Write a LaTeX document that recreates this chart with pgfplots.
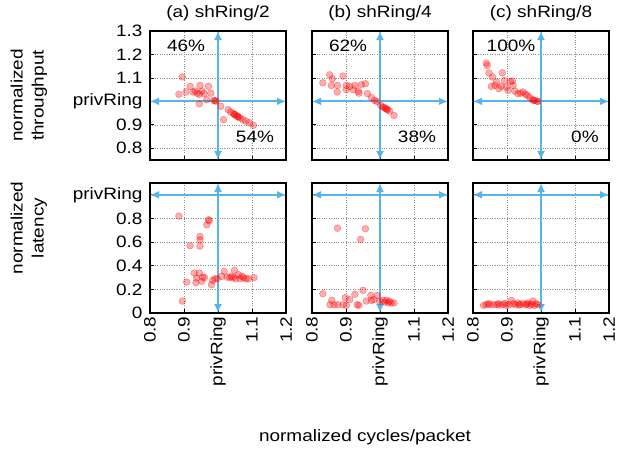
\documentclass[border=0pt]{standalone}
\usepackage{fontspec}
\setmainfont{Liberation Sans}[FakeStretch=1.15]
\usepackage{pgfplots}
\pgfplotsset{compat=1.18}
\usetikzlibrary{arrows.meta}
\definecolor{skyb}{RGB}{86,180,233}

% measurements of the three rings, normalized to privRing
\pgfplotstableread{
x y
0.895 1.104
0.885 1.030
0.906 1.040
0.918 1.064
0.927 1.040
0.933 1.044
0.939 1.035
0.945 1.030
0.947 1.068
0.953 1.044
0.959 1.033
0.972 1.064
0.979 1.035
0.945 0.990
0.967 1.007
0.988 1.004
0.994 1.001
0.991 1.003
1.008 0.979
1.016 0.922
1.030 0.965
1.037 0.955
1.045 0.948
1.050 0.943
1.055 0.938
1.060 0.933
1.065 0.929
1.073 0.922
1.082 0.916
1.092 0.909
1.104 0.898
1.048 0.945
1.058 0.936
}\tputA
\pgfplotstableread{
x y
0.832 1.079
0.852 1.113
0.860 1.096
0.857 1.068
0.875 1.068
0.874 1.040
0.891 1.108
0.901 1.068
0.901 1.050
0.911 1.064
0.926 1.068
0.936 1.043
0.938 1.035
0.945 1.071
0.957 1.075
0.963 1.033
0.975 1.016
0.984 1.004
0.991 1.000
1.002 0.983
1.009 0.976
1.017 0.969
1.022 0.965
1.028 0.959
1.041 0.940
0.921 1.050
1.012 0.973
1.020 0.967
}\tputB
\pgfplotstableread{
x y
0.839 1.163
0.842 1.153
0.847 1.121
0.857 1.104
0.854 1.064
0.864 1.068
0.869 1.082
0.876 1.054
0.886 1.122
0.893 1.089
0.898 1.061
0.903 1.047
0.910 1.085
0.916 1.087
0.918 1.068
0.932 1.033
0.940 1.035
0.947 1.040
0.954 1.030
0.960 1.026
0.967 1.016
0.975 1.007
0.981 1.004
0.988 1.001
0.991 1.000
0.923 1.044
0.883 1.064
0.978 1.005
}\tputC
\pgfplotstableread{
x y
0.885 0.820
0.972 0.789
0.967 0.746
0.974 0.780
0.947 0.648
0.947 0.620
0.947 0.566
0.918 0.569
0.895 0.101
0.908 0.262
0.930 0.338
0.945 0.338
0.937 0.296
0.955 0.304
0.935 0.256
0.952 0.268
0.960 0.300
0.981 0.239
0.984 0.276
0.991 0.290
0.998 0.290
1.011 0.310
1.018 0.352
1.027 0.304
1.035 0.299
1.045 0.299
1.048 0.361
1.052 0.290
1.060 0.324
1.065 0.290
1.070 0.310
1.075 0.299
1.082 0.290
1.089 0.290
1.106 0.299
1.040 0.310
}\latA
\pgfplotstableread{
x y
0.875 0.718
0.957 0.713
0.943 0.623
0.832 0.163
0.858 0.107
0.853 0.070
0.865 0.070
0.876 0.070
0.898 0.130
0.901 0.065
0.911 0.113
0.926 0.158
0.933 0.070
0.938 0.065
0.950 0.192
0.960 0.101
0.973 0.149
0.975 0.107
0.982 0.113
0.992 0.149
0.999 0.099
1.009 0.107
1.014 0.093
1.019 0.107
1.024 0.087
1.028 0.100
1.033 0.085
1.041 0.085
0.891 0.070
}\latB
\pgfplotstableread{
x y
0.831 0.065
0.839 0.070
0.849 0.073
0.859 0.070
0.869 0.073
0.878 0.068
0.888 0.073
0.898 0.065
0.906 0.070
0.913 0.107
0.918 0.079
0.925 0.070
0.932 0.085
0.939 0.073
0.947 0.079
0.955 0.070
0.962 0.085
0.967 0.065
0.972 0.073
0.976 0.101
0.981 0.065
0.986 0.079
0.991 0.070
0.845 0.080
0.875 0.078
0.895 0.082
0.935 0.068
0.958 0.076
}\latC

\newcommand\fs{\fontsize{16.5}{21}\selectfont}
\pgfplotsset{
  panel/.style={
    scale only axis, width=136pt, anchor=north west,
    xmin=0.8, xmax=1.2, clip=false,
    xtick={0.8,0.9,1,1.1,1.2},
    xticklabels={0.8,0.9,privRing,1.1,1.2},
    tick align=inside, xtick pos=bottom, ytick pos=left,
    major tick length=4pt,
    tick style={black, line width=0.8pt},
    axis line style={line width=1.2pt},
    grid=major, major grid style={dotted, black!45, line width=0.6pt},
    /pgf/number format/assume math mode=true,
    every tick label/.append style={font=\fs},
    yticklabel style={xshift=-4pt},
    xticklabel style={rotate=90, anchor=east},
    title style={font=\fs, at={(0.5,1)}, anchor=south, yshift=1pt},
  },
  top/.style={panel, height=129pt, ymin=0.75, ymax=1.3,
    ytick={0.8,0.9,1,1.1,1.2,1.3},
    yticklabels={0.8,0.9,privRing,1.1,1.2,1.3},
    xticklabels={}},
  bot/.style={panel, height=130pt, ymin=0, ymax=1.1,
    ytick={0,0.2,0.4,0.6,0.8,1},
    yticklabels={0,0.2,0.4,0.6,0.8,privRing}},
  pts/.style={only marks, mark=*, mark size=3.4pt,
    mark options={draw=red, fill=red, fill opacity=0.32, draw opacity=0.45}},
  arr/.style={skyb, line width=1.8pt, {Latex[length=9pt,width=8pt]}-{Latex[length=9pt,width=8pt]}},
}

\begin{document}
\begin{tikzpicture}[font=\fs]
\useasboundingbox (0,0) rectangle (624pt,-448pt);

% top row: throughput
\begin{axis}[top, at={(150pt,-31pt)}, title={(a) shRing/2},
  ylabel={normalized\\throughput},
  every axis y label/.style={at={(axis description cs:-0.89,0.5)}, rotate=90,
    anchor=center, align=center, font=\fs}]
\addplot[arr] coordinates {(0.8,1) (1.2,1)};
\addplot[arr] coordinates {(1,0.75) (1,1.3)};
\addplot[pts] table {\tputA};
\node[anchor=west] at (axis cs:0.84,1.236) {46\%};
\node[anchor=east] at (axis cs:1.175,0.848) {54\%};
\end{axis}

\begin{axis}[top, at={(312pt,-31pt)}, title={(b) shRing/4}, yticklabels={}]
\addplot[arr] coordinates {(0.8,1) (1.2,1)};
\addplot[arr] coordinates {(1,0.75) (1,1.3)};
\addplot[pts] table {\tputB};
\node[anchor=west] at (axis cs:0.84,1.236) {62\%};
\node[anchor=east] at (axis cs:1.175,0.848) {38\%};
\end{axis}

\begin{axis}[top, at={(473pt,-31pt)}, title={(c) shRing/8}, yticklabels={}]
\addplot[arr] coordinates {(0.8,1) (1.2,1)};
\addplot[arr] coordinates {(1,0.75) (1,1.3)};
\addplot[pts] table {\tputC};
\node[anchor=west] at (axis cs:0.83,1.236) {100\%};
\node[anchor=east] at (axis cs:1.18,0.848) {0\%};
\end{axis}

% bottom row: latency
\begin{axis}[bot, at={(150pt,-183pt)},
  ylabel={normalized\\latency},
  every axis y label/.style={at={(axis description cs:-0.89,0.654)}, rotate=90,
    anchor=center, align=center, font=\fs}]
\addplot[arr] coordinates {(0.8,1) (1.2,1)};
\addplot[arr] coordinates {(1,0) (1,1.1)};
\addplot[pts] table {\latA};
\end{axis}

\begin{axis}[bot, at={(312pt,-183pt)}, yticklabels={},
  xlabel={normalized cycles/packet},
  every axis x label/.style={at={(axis description cs:0.39,-0.954)}, anchor=center, font=\fs}]
\addplot[arr] coordinates {(0.8,1) (1.2,1)};
\addplot[arr] coordinates {(1,0) (1,1.1)};
\addplot[pts] table {\latB};
\end{axis}

\begin{axis}[bot, at={(473pt,-183pt)}, yticklabels={}]
\addplot[arr] coordinates {(0.8,1) (1.2,1)};
\addplot[arr] coordinates {(1,0) (1,1.1)};
\addplot[pts] table {\latC};
\end{axis}
\end{tikzpicture}
\end{document}
